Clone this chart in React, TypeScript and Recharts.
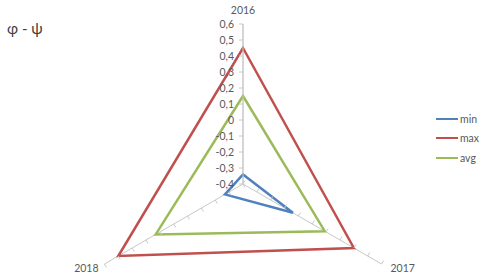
import { RadarChart, Radar, PolarGrid, PolarAngleAxis, PolarRadiusAxis, Legend } from 'recharts';

// years on the three spokes
const years = ['2016', '2017', '2018'];

// series values
const minValues = [-0.34, -0.04, -0.27];
const maxValues = [0.45, 0.4, 0.5];
const avgValues = [0.15, 0.19, 0.23];

const radiusTicks = [-0.4, -0.3, -0.2, -0.1, 0, 0.1, 0.2, 0.3, 0.4, 0.5, 0.6];

const seriesInfo = [
    { key: 'min', color: '#4F81BD' },
    { key: 'max', color: '#C0504D' },
    { key: 'avg', color: '#9BBB59' },
];

const data = years.map((year, i) => ({
    year,
    min: minValues[i],
    max: maxValues[i],
    avg: avgValues[i],
}));

const fontFamily = 'Lato, "Open Sans", sans-serif';
const textColor = '#595959';
const axisColor = '#c8c8c8';

// comma decimals like the original (0,6 / -0,4 / 0)
const formatTick = (v: number) => {
    const r = Math.round(v * 10) / 10;
    if (r === 0) return '0';
    return r.toFixed(1).replace('.', ',');
};

// vertical axis: small tick mark on the left plus the label
const RadiusTick = (props: any) => {
    const { x, y, payload } = props;
    return (
        <g>
            <line x1={x - 4} y1={y} x2={x} y2={y} stroke={axisColor} strokeWidth={1} />
            <text x={x - 9} y={y} dy={3.5} textAnchor="end" fontSize={10.5} fontFamily={fontFamily} fill={textColor}>
                {formatTick(payload.value)}
            </text>
        </g>
    );
};

// tick marks only, for the two lower spokes
const makeSpokeTick = (angle: number) => (props: any) => {
    const { x, y } = props;
    const rad = (angle * Math.PI) / 180;
    const dx = Math.cos(rad);
    const dy = -Math.sin(rad);
    // rotate axis direction 90deg counter-clockwise on screen
    const px = dy;
    const py = -dx;
    return <line x1={x} y1={y} x2={x + px * 4} y2={y + py * 4} stroke={axisColor} strokeWidth={1} />;
};

const AngleTick = (props: any) => {
    const { x, y, payload, index } = props;
    let tx = x;
    let ty = y;
    let anchor: 'middle' | 'start' | 'end' = 'middle';
    if (index === 0) {
        ty = y - 2;
    } else if (index === 1) {
        tx = x + 2;
        ty = y + 4;
        anchor = 'start';
    } else {
        tx = x + 1;
        ty = y + 4;
        anchor = 'end';
    }
    return (
        <text x={tx} y={ty} textAnchor={anchor} fontSize={10.5} fontFamily={fontFamily} fill={textColor}>
            {payload.value}
        </text>
    );
};

const LegendContent = () => (
    <div style={{ fontFamily, fontSize: 10.5, color: textColor }}>
        {seriesInfo.map((s) => (
            <div key={s.key} style={{ display: 'flex', alignItems: 'center', height: 19.5 }}>
                <span style={{ display: 'inline-block', width: 22, height: 2, background: s.color, marginRight: 2 }} />
                <span>{s.key}</span>
            </div>
        ))}
    </div>
);

const radiusDomain: [number, number] = [-0.4, 0.6];

export default function App() {
    return (
        <div style={{ position: 'absolute', left: 0, top: 0, width: 479, height: 273, background: '#fff' }}>
            <div
                style={{
                    position: 'absolute',
                    left: 7,
                    top: 19,
                    fontFamily,
                    fontSize: 15,
                    color: '#404040',
                    zIndex: 2,
                }}
            >
                φ - ψ
            </div>
            <RadarChart
                width={479}
                height={273}
                data={data}
                cx={243}
                cy={184}
                outerRadius={160}
                startAngle={90}
                endAngle={-270}
            >
                <PolarGrid gridType="polygon" polarRadius={[]} stroke={axisColor} />
                <PolarAngleAxis dataKey="year" axisLine={false} tickLine={false} tick={AngleTick} />
                <PolarRadiusAxis
                    angle={90}
                    type="number"
                    domain={radiusDomain}
                    allowDecimals
                    allowDataOverflow
                    tickCount={11}
                    ticks={radiusTicks}
                    axisLine={{ stroke: axisColor }}
                    tick={RadiusTick}
                />
                <PolarRadiusAxis
                    radiusAxisId="r2017"
                    angle={-30}
                    type="number"
                    domain={radiusDomain}
                    allowDecimals
                    allowDataOverflow
                    tickCount={11}
                    ticks={radiusTicks}
                    axisLine={false}
                    tick={makeSpokeTick(-30)}
                />
                <PolarRadiusAxis
                    radiusAxisId="r2018"
                    angle={-150}
                    type="number"
                    domain={radiusDomain}
                    allowDecimals
                    allowDataOverflow
                    tickCount={11}
                    ticks={radiusTicks}
                    axisLine={false}
                    tick={makeSpokeTick(-150)}
                />
                {seriesInfo.map((s) => (
                    <Radar
                        key={s.key}
                        name={s.key}
                        dataKey={s.key}
                        stroke={s.color}
                        strokeWidth={2.5}
                        fill="none"
                        fillOpacity={0}
                        dot={false}
                        isAnimationActive={false}
                    />
                ))}
                <Legend
                    content={<LegendContent />}
                    wrapperStyle={{ position: 'absolute', left: 436, top: 109, width: 43 }}
                />
            </RadarChart>
        </div>
    );
}
